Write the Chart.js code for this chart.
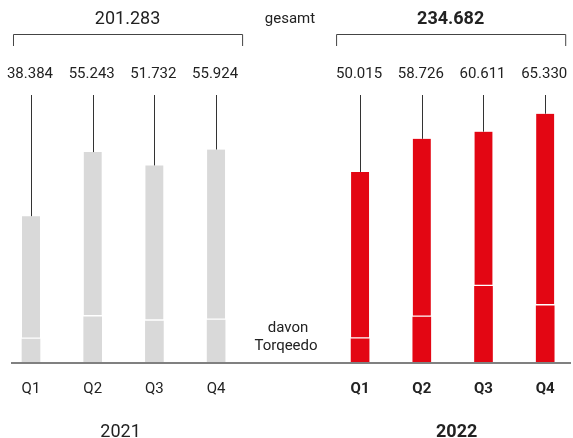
<!DOCTYPE html>
<html>
<head>
<meta charset="utf-8">
<script src="https://cdn.jsdelivr.net/npm/chart.js@4"></script>
<style>
  body { margin: 0; background: #fff; }
  #wrap { width: 573px; height: 438px; }
</style>
</head>
<body>
<div id="wrap"><canvas id="umsatz" width="573" height="438"></canvas></div>
<script>
// Daten (Umsatz je Quartal, davon Torqeedo)
const quartale = ['Q1', 'Q2', 'Q3', 'Q4'];
const jahre = ['2021', '2022'];
const gesamt2021 = [38384, 55243, 51732, 55924];
const gesamt2022 = [50015, 58726, 60611, 65330];
const torqeedo2021 = [6000, 11900, 10800, 11000];
const torqeedo2022 = [6100, 11800, 19900, 14800];
const summen = [201283, 234682];

// Positionen der Balken auf der Kategorienachse (Lücke zwischen den Jahren)
const slots = [[0, 3, 6, 9], [16, 19, 22, 25]];
const anzahlSlots = 26;

const farbeGrau = '#d9d9d9';
const farbeRot = '#e30613';

function fmt(n) {
  return String(n).replace(/\B(?=(\d{3})+(?!\d))/g, '.');
}

const labels = new Array(anzahlSlots).fill('');
const unten = new Array(anzahlSlots).fill(null);
const oben = new Array(anzahlSlots).fill(null);
const farben = new Array(anzahlSlots).fill(farbeGrau);
const gesamtJeJahr = [gesamt2021, gesamt2022];
const torqeedoJeJahr = [torqeedo2021, torqeedo2022];

slots.forEach((reihe, j) => {
  reihe.forEach((s, i) => {
    labels[s] = quartale[i];
    unten[s] = torqeedoJeJahr[j][i];
    oben[s] = gesamtJeJahr[j][i] - torqeedoJeJahr[j][i];
    farben[s] = j === 0 ? farbeGrau : farbeRot;
  });
});

const beschriftung = {
  id: 'beschriftung',
  afterDatasetsDraw(chart) {
    const ctx = chart.ctx;
    const meta = chart.getDatasetMeta(1);
    const y0 = chart.scales.y.getPixelForValue(0);
    ctx.save();

    // Grundlinie
    ctx.strokeStyle = '#808080';
    ctx.lineWidth = 2;
    ctx.beginPath();
    ctx.moveTo(11, y0 + 1);
    ctx.lineTo(571, y0 + 1);
    ctx.stroke();

    slots.forEach((reihe, j) => {
      const fett = j === 1 ? 'bold ' : '';
      reihe.forEach((s, i) => {
        const el = meta.data[s];
        ctx.strokeStyle = '#333';
        ctx.lineWidth = 1;
        ctx.beginPath();
        ctx.moveTo(Math.round(el.x) + 0.5, 95);
        ctx.lineTo(Math.round(el.x) + 0.5, el.y);
        ctx.stroke();

        ctx.fillStyle = '#222';
        ctx.font = '15px Roboto';
        ctx.textAlign = 'center';
        ctx.textBaseline = 'middle';
        ctx.fillText(fmt(gesamtJeJahr[j][i]), el.x - 1, 74);
      });

      // Klammer mit Jahressumme
      const x1 = meta.data[reihe[0]].x;
      const x2 = meta.data[reihe[reihe.length - 1]].x;
      const links = x1 - (j === 0 ? 18 : 24);
      const rechts = x2 + (j === 0 ? 26 : 20);
      ctx.strokeStyle = '#444';
      ctx.lineWidth = 1;
      ctx.beginPath();
      ctx.moveTo(links + 0.5, 46);
      ctx.lineTo(links + 0.5, 34.5);
      ctx.lineTo(rechts + 0.5, 34.5);
      ctx.lineTo(rechts + 0.5, 46);
      ctx.stroke();

      ctx.fillStyle = '#222';
      ctx.font = fett + '18px Roboto';
      ctx.fillText(fmt(summen[j]), (links + rechts) / 2, 19);

      // Jahr unter der Achse
      ctx.fillText(jahre[j], (x1 + x2) / 2 + (j === 0 ? -3 : 4), 432);
    });

    ctx.font = '15px Roboto';
    ctx.fillStyle = '#222';
    ctx.fillText('gesamt', 290, 19);
    ctx.fillText('davon', 288, 328);
    ctx.fillText('Torqeedo', 286, 346);
    ctx.restore();
  }
};

const ctx = document.getElementById('umsatz').getContext('2d');
new Chart(ctx, {
  type: 'bar',
  data: {
    labels: labels,
    datasets: [{
      label: 'davon Torqeedo',
      data: unten,
      backgroundColor: farben,
      borderWidth: 0,
      barThickness: 18
    }, {
      label: 'gesamt',
      data: oben,
      backgroundColor: farben,
      borderColor: '#ffffff',
      borderWidth: { top: 0, left: 0, right: 0, bottom: 2 },
      borderSkipped: false,
      barThickness: 18
    }]
  },
  options: {
    responsive: false,
    animation: false,
    layout: {
      padding: { left: 20.7, right: 16.7, top: 96, bottom: 22 }
    },
    plugins: {
      legend: { display: false },
      tooltip: { enabled: false }
    },
    scales: {
      x: {
        stacked: true,
        grid: { display: false, drawTicks: false },
        border: { display: false },
        ticks: {
          autoSkip: false,
          maxRotation: 0,
          padding: 18,
          color: '#222',
          font: (c) => ({ family: 'Roboto', size: 15, weight: c.index > 12 ? 'bold' : 'normal' })
        }
      },
      y: {
        stacked: true,
        display: false,
        min: 0,
        max: 70000
      }
    }
  },
  plugins: [beschriftung]
});
</script>
</body>
</html>
